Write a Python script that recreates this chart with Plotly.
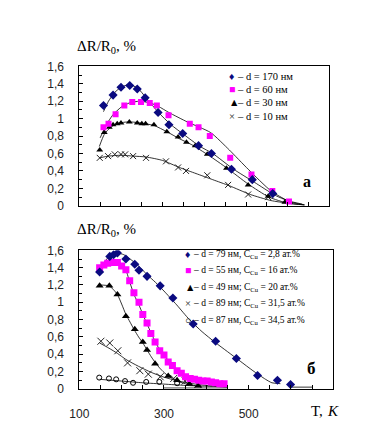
import plotly.graph_objects as go

W, H = 373, 445

# ---------------- data: panel a ----------------
T170 = [158, 181, 200, 221, 239, 258, 289, 315, 348, 386, 417, 465, 515, 564]
V170 = [1.15, 1.27, 1.36, 1.38, 1.34, 1.24, 1.07, 0.93, 0.83, 0.69, 0.60, 0.42, 0.30, 0.14]
T60 = [158, 170, 187, 208, 227, 248, 269, 286, 314, 365, 386, 413, 462, 513, 563, 603]
V60 = [0.90, 0.94, 1.05, 1.15, 1.19, 1.19, 1.18, 1.15, 1.04, 0.94, 0.90, 0.80, 0.55, 0.36, 0.17, 0.05]
T30 = [149, 160, 172, 181, 191, 200, 220, 239, 250, 259, 279, 310, 337, 357, 378, 407, 453, 505, 553, 593]
V30 = [0.64, 0.84, 0.90, 0.93, 0.94, 0.95, 0.96, 0.95, 0.94, 0.94, 0.93, 0.85, 0.79, 0.73, 0.69, 0.59, 0.43, 0.24, 0.11, 0.04]
T10 = [149, 169, 185, 200, 210, 229, 260, 308, 337, 356, 407, 457, 505, 553]
V10 = [0.55, 0.57, 0.59, 0.59, 0.59, 0.57, 0.55, 0.51, 0.44, 0.40, 0.35, 0.24, 0.13, 0.10]

# fitted curves
FT170 = [158, 170, 185, 200, 220, 240, 260, 290, 320, 350, 390, 420, 470, 520, 570, 610, 640]
FV170 = [1.08, 1.20, 1.30, 1.36, 1.39, 1.35, 1.24, 1.07, 0.93, 0.82, 0.68, 0.60, 0.42, 0.27, 0.12, 0.04, 0.01]
FT60 = [150, 165, 180, 200, 220, 245, 270, 290, 315, 360, 415, 460, 505, 560, 600, 635]
FV60 = [0.78, 0.93, 1.04, 1.13, 1.18, 1.20, 1.18, 1.14, 1.07, 0.96, 0.84, 0.64, 0.42, 0.17, 0.06, 0.02]
FT30 = [148, 160, 175, 190, 210, 230, 260, 280, 310, 340, 370, 410, 455, 505, 555, 600, 640]
FV30 = [0.68, 0.82, 0.90, 0.94, 0.96, 0.96, 0.94, 0.92, 0.85, 0.77, 0.70, 0.58, 0.43, 0.25, 0.10, 0.03, 0.01]
FT10 = [148, 170, 200, 230, 260, 300, 340, 380, 420, 460, 510, 560, 600, 640]
FV10 = [0.55, 0.57, 0.58, 0.57, 0.56, 0.52, 0.44, 0.37, 0.30, 0.23, 0.13, 0.06, 0.03, 0.01]

# ---------------- data: panel b ----------------
T79 = [148, 172, 181, 190, 210, 231, 241, 260, 291, 321, 369, 422, 471, 521, 568, 599]
V79 = [1.35, 1.53, 1.55, 1.57, 1.50, 1.44, 1.37, 1.30, 1.19, 1.05, 0.75, 0.55, 0.35, 0.155, 0.10, 0.05]
T55 = [148, 158, 167, 177, 190, 200, 210, 219, 229, 241, 250, 260, 269, 279, 290, 300, 310, 320,
       331, 341, 351, 362, 372, 382, 392, 402, 412, 422, 432, 442]
V55 = [1.40, 1.43, 1.45, 1.46, 1.46, 1.42, 1.375, 1.25, 1.11, 1.00, 0.86, 0.76, 0.64, 0.54, 0.44, 0.39,
       0.31, 0.27, 0.21, 0.18, 0.14, 0.12, 0.11, 0.10, 0.09, 0.09, 0.08, 0.07, 0.06, 0.06]
T49 = [148, 171, 190, 210, 231, 250, 260, 279, 310, 331, 360, 381]
V49 = [1.19, 1.19, 1.09, 0.84, 0.69, 0.54, 0.45, 0.29, 0.15, 0.10, 0.055, 0.035]
T89 = [151, 172, 191, 214, 243, 263, 291, 323, 350, 380]
V89 = [0.55, 0.53, 0.44, 0.30, 0.21, 0.17, 0.14, 0.12, 0.09, 0.05]
T87 = [147, 170, 187, 208, 227, 258, 289, 331]
V87 = [0.13, 0.12, 0.11, 0.09, 0.07, 0.08, 0.08, 0.065]

FT79 = [148, 160, 175, 190, 205, 220, 240, 260, 280, 300, 330, 360, 390, 420, 450, 480, 510, 540, 555, 575, None, 600, 652]
FV79 = [1.36, 1.47, 1.55, 1.57, 1.55, 1.50, 1.42, 1.32, 1.23, 1.13, 0.97, 0.80, 0.66, 0.54, 0.43, 0.32, 0.21, 0.11, 0.07, 0.06, None, 0.02, 0.02]
FT55 = [148, 160, 175, 190, 200, 210, 220, 230, 240, 250, 260, 270, 280, 290, 300, 315, 330, 350, 370, 400, 440]
FV55 = [1.40, 1.44, 1.46, 1.46, 1.43, 1.37, 1.22, 1.08, 0.98, 0.86, 0.75, 0.64, 0.54, 0.45, 0.39, 0.30, 0.22, 0.15, 0.11, 0.08, 0.06]
FT49 = [148, 170, 180, 190, 200, 210, 220, 230, 240, 250, 260, 270, 280, 290, 300, 310, 330, 350, 370, 385]
FV49 = [1.20, 1.19, 1.15, 1.09, 0.98, 0.86, 0.77, 0.68, 0.60, 0.53, 0.45, 0.37, 0.30, 0.24, 0.19, 0.15, 0.09, 0.06, 0.04, 0.03]
FT89 = [148, 170, 190, 210, 240, 270, 300, 330, 360, 390, 420, 449]
FV89 = [0.53, 0.47, 0.41, 0.34, 0.26, 0.19, 0.135, 0.095, 0.065, 0.045, 0.03, 0.02]
FT87 = [148, 200, 250, 300, 350, 400, 449, None, 300, 449]
FV87 = [0.11, 0.09, 0.07, 0.055, 0.04, 0.03, 0.03, None, 0.01, 0.01]

Y_TICKS = [0, 0.2, 0.4, 0.6, 0.8, 1.0, 1.2, 1.4, 1.6]
Y_TICKTEXT = ["0", "0,2", "0,4", "0,6", "0,8", "1", "1,2", "1,4", "1,6"]
X_TICKS = [100, 300, 500]
X_TICKTEXT = ["100", "300", "500"]

LEG_A = ["– d = 170 нм", "– d = 60 нм", "– d = 30 нм", "– d = 10 нм"]
LEG_B = ["– d = 79 нм, C<sub>Cu</sub> = 2,8 ат.%", "– d = 55 нм, C<sub>Cu</sub> = 16 ат.%",
         "– d = 49 нм; C<sub>Cu</sub> = 20 ат.%", "– d = 89 нм; C<sub>Cu</sub> = 31,5 ат.%",
         "– d = 87 нм, C<sub>Cu</sub> = 34,5 ат.%"]

NAVY = "#0a0a80"
MAG = "#ff00ff"
BLK = "#000000"

fig = go.Figure()

def line(x, y, xa, ya):
    fig.add_trace(go.Scatter(x=x, y=y, mode="lines", xaxis=xa, yaxis=ya,
                             line=dict(color="black", width=0.8, shape="spline", smoothing=0.6),
                             showlegend=False, hoverinfo="skip", connectgaps=False))

def pts(x, y, xa, ya, symbol, color, size, lw=0):
    fig.add_trace(go.Scatter(x=x, y=y, mode="markers", xaxis=xa, yaxis=ya,
                             marker=dict(symbol=symbol, color=color, size=size,
                                         line=dict(width=lw, color=color)),
                             showlegend=False))

# panel a
for ft, fv in [(FT170, FV170), (FT60, FV60), (FT30, FV30), (FT10, FV10)]:
    line(ft, fv, "x", "y")
pts(T10, V10, "x", "y", "x-thin", "#222", 6, 1)
pts(T30, V30, "x", "y", "triangle-up", BLK, 6)
pts(T60, V60, "x", "y", "square", MAG, 6)
pts(T170, V170, "x", "y", "diamond", NAVY, 7)

# panel b
for ft, fv in [(FT79, FV79), (FT55, FV55), (FT49, FV49), (FT89, FV89), (FT87, FV87)]:
    line(ft, fv, "x2", "y2")
pts(T87, V87, "x2", "y2", "circle-open", BLK, 5, 1)
pts(T89, V89, "x2", "y2", "x-thin", "#222", 7, 1)
pts(T49, V49, "x2", "y2", "triangle-up", BLK, 7)
pts(T55, V55, "x2", "y2", "square", MAG, 7)
pts(T79, V79, "x2", "y2", "diamond", NAVY, 7)

def px_x(p):
    return p / W

def px_y(p):
    return 1 - p / H

tickfont = dict(family="Liberation Sans, Arial", size=12, color="#222")
yax = dict(range=[0, 1.6], tickvals=Y_TICKS, ticktext=Y_TICKTEXT, ticks="inside", ticklen=4,
           tickcolor="black", showline=True, linecolor="black", linewidth=1, mirror=True,
           showgrid=False, zeroline=False, tickfont=tickfont, ticklabelstandoff=12,
           minor=dict(dtick=0.1, ticks="inside", ticklen=3, tickcolor="black", showgrid=False))
xbase = dict(range=[100, 700], ticks="inside", ticklen=4, tickcolor="black", showline=True,
             linecolor="black", linewidth=1, mirror=True, showgrid=False, zeroline=False,
             tickfont=tickfont,
             minor=dict(tickmode="linear", tick0=100, dtick=50, ticks="inside", ticklen=4,
                        tickcolor="black", showgrid=False))

fig.update_layout(
    width=W, height=H, margin=dict(l=0, r=0, t=0, b=0),
    paper_bgcolor="white", plot_bgcolor="white", showlegend=False,
    xaxis=dict(xbase, domain=[px_x(63), px_x(320)], anchor="y", tickvals=X_TICKS,
               showticklabels=False),
    yaxis=dict(yax, domain=[px_y(197), px_y(53)], anchor="x"),
    xaxis2=dict(xbase, domain=[px_x(63), px_x(324)], anchor="y2", tickvals=X_TICKS,
                ticktext=X_TICKTEXT, ticklabelstandoff=14),
    yaxis2=dict(yax, domain=[px_y(386), px_y(243)], anchor="x2"),
)

serif = "Liberation Serif, Times New Roman, serif"
ann = []
def text(x, y, s, size=11, color="black", weight="normal", style="normal"):
    ann.append(dict(xref="paper", yref="paper", x=px_x(x), y=px_y(y), text=s, showarrow=False,
                    xanchor="left", yanchor="middle", borderpad=0,
                    font=dict(family=serif, size=size, color=color, weight=weight, style=style)))

text(60, 33, "ΔR/R<sub>0</sub>, %", 15)
text(60, 222, "ΔR/R<sub>0</sub>, %", 15)
text(300, 409, "T,", 15)
text(316, 409, "K", 15, style="italic")
text(292, 172, "а", 16, weight="bold")
text(296, 365, "б", 17, weight="bold")

glyph_a = [("♦", NAVY), ("■", MAG), ("▲", BLK), ("×", "#222")]
ys_a = [63, 76.8, 90.6, 104.4]
for (g, c), yy, lab in zip(glyph_a, ys_a, LEG_A):
    text(216, yy, g, 10.5, color=c)
    text(224, yy, lab, 10.5)

glyph_b = [("♦", NAVY), ("■", MAG), ("▲", BLK), ("×", "#222"), ("○", BLK)]
ys_b = [247, 264, 281, 298, 315]
for (g, c), yy, lab in zip(glyph_b, ys_b, LEG_B):
    text(171, yy, g, 10.5, color=c)
    text(179, yy, lab, 9.5)

fig.update_layout(annotations=ann)
fig.write_html("out.html")
